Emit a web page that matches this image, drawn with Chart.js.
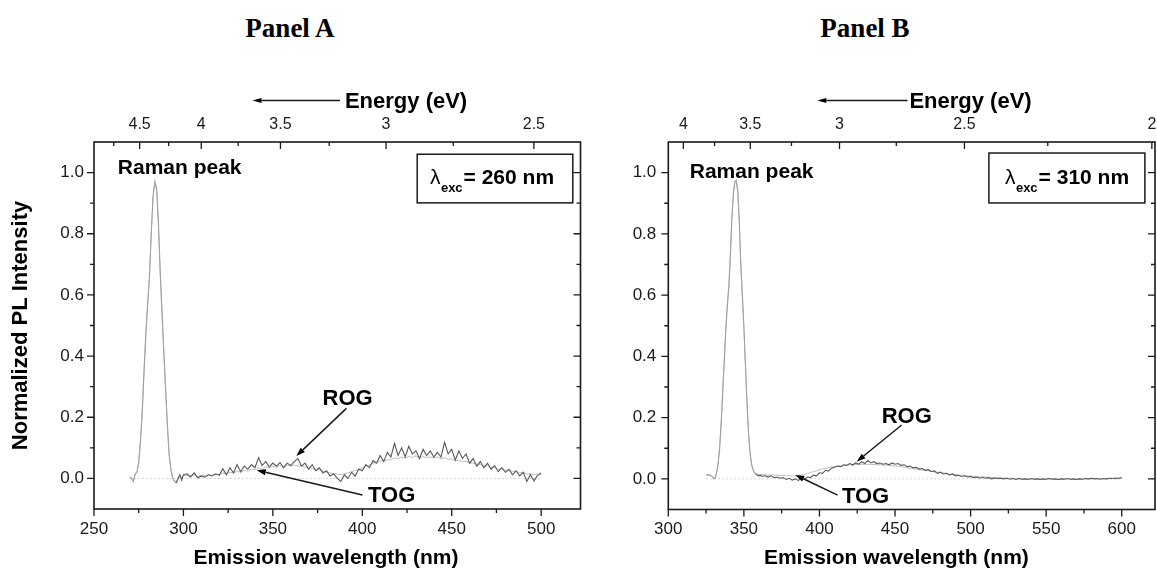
<!DOCTYPE html>
<html><head><meta charset="utf-8">
<script src="https://cdn.jsdelivr.net/npm/chart.js@4.4.1/dist/chart.umd.min.js"></script>
<style>
html,body{margin:0;padding:0;background:#fff;}
body{width:1157px;height:577px;position:relative;overflow:hidden;}
.pt{position:absolute;top:13px;font:bold 27px "Liberation Serif","Times New Roman",serif;color:#000;transform:translateX(-50%);white-space:nowrap;}
#ca{position:absolute;left:0;top:0;}
#cb{position:absolute;left:610px;top:0;}
</style></head><body>
<div class="pt" style="left:290px">Panel A</div>
<div class="pt" style="left:865px">Panel B</div>
<canvas id="ca" width="610" height="577"></canvas>
<canvas id="cb" width="547" height="577"></canvas>
<script>
const HC = 1239.84; // eV·nm
const FONT = '"Liberation Sans", Arial, sans-serif';

// ---------- Panel A data (λexc = 260 nm) ----------
const wlA = [270,271,272,273,274,275,276,277,278,279,
  280,281,282,283,284,285,286,287,288,289,
  290,291,292,293,294,295,296,297,298,299,300,
  302,304,306,308,310,312,314,316,318,320,
  322,324,326,328,330,332,334,336,338,340,
  342,344,346,348,350,352,354,356,358,360,
  362,364,366,368,370,372,374,376,378,380,
  382,384,386,388,390,392,394,396,398,400,
  402,404,406,408,410,412,414,416,418,420,
  422,424,426,428,430,432,434,436,438,440,
  442,444,446,448,450,452,454,456,458,460,
  462,464,466,468,470,472,474,476,478,480,
  482,484,486,488,490,492,494,496,498,500];
const rogA = [0.005,0.0,-0.01,0.015,0.02,0.05,0.12,0.22,0.35,0.47,
  0.57,0.66,0.8,0.92,0.972,0.95,0.84,0.68,0.55,0.42,
  0.3,0.18,0.08,0.03,0.0,-0.01,-0.015,0.0,0.012,-0.005,0.012,
  0.015,0.005,0.018,0.002,0.008,0.004,0.012,0.008,0.015,0.01,
  0.032,0.012,0.035,0.018,0.045,0.022,0.04,0.03,0.045,0.035,
  0.068,0.042,0.055,0.038,0.05,0.04,0.052,0.035,0.05,0.042,
  0.055,0.065,0.04,0.05,0.03,0.045,0.025,0.035,0.018,0.025,
  0.008,0.015,0.0,-0.01,0.012,0.0,0.02,0.008,0.03,0.025,
  0.045,0.035,0.058,0.05,0.075,0.055,0.085,0.07,0.115,0.075,
  0.1,0.07,0.105,0.08,0.09,0.065,0.095,0.075,0.09,0.07,
  0.085,0.07,0.118,0.08,0.095,0.06,0.09,0.065,0.08,0.05,
  0.065,0.04,0.055,0.035,0.05,0.03,0.042,0.022,0.035,0.02,
  0.03,0.012,0.025,0.008,0.02,-0.01,0.012,-0.008,0.01,0.018];
const togA = [0.004,0.002,-0.008,0.012,0.02,0.055,0.13,0.23,0.36,0.48,
  0.57,0.66,0.8,0.92,0.965,0.945,0.83,0.67,0.54,0.41,
  0.29,0.17,0.075,0.028,0.002,-0.008,-0.012,0.002,0.008,0.0,0.01,
  0.01,0.008,0.012,0.006,0.01,0.008,0.012,0.01,0.014,0.012,
  0.018,0.015,0.02,0.018,0.024,0.02,0.026,0.024,0.03,0.028,
  0.035,0.03,0.038,0.034,0.04,0.036,0.042,0.038,0.043,0.04,
  0.044,0.04,0.042,0.036,0.038,0.032,0.03,0.028,0.024,0.02,
  0.018,0.016,0.014,0.012,0.016,0.018,0.022,0.026,0.03,0.034,
  0.04,0.044,0.05,0.052,0.058,0.056,0.062,0.06,0.068,0.064,
  0.07,0.066,0.072,0.068,0.074,0.066,0.072,0.068,0.07,0.066,
  0.07,0.064,0.068,0.062,0.064,0.058,0.06,0.054,0.056,0.05,
  0.05,0.046,0.046,0.04,0.042,0.036,0.036,0.03,0.032,0.026,
  0.028,0.022,0.024,0.018,0.02,0.014,0.016,0.012,0.014,0.012];
const baseXA = [270, 500];
const baseY = [0, 0];
const ramanEndA = 296;

// ---------- Panel B data (λexc = 310 nm) ----------
const wlB = [325,326,327,328,329,330,331,332,333,334,
  335,336,337,338,339,340,341,342,343,344,
  345,346,347,348,349,350,351,352,353,354,
  355,356,357,358,359,360,361,362,
  364,366,368,370,372,374,376,378,380,382,384,386,388,390,392,394,396,398,400,
  402,404,406,408,410,412,414,416,418,420,
  422,424,426,428,430,432,434,436,438,440,
  442,444,446,448,450,452,454,456,458,460,
  462,464,466,468,470,472,474,476,478,480,
  482,484,486,488,490,492,494,496,498,500,
  502,504,506,508,510,512,514,516,518,520,
  522,524,526,528,530,532,534,536,538,540,
  542,544,546,548,550,552,554,556,558,560,
  562,564,566,568,570,572,574,576,578,580,
  582,584,586,588,590,592,594,596,598,600];
const rogB = [0.015,0.012,0.014,0.01,0.008,0.0,0.002,0.02,0.05,0.1,
  0.18,0.28,0.38,0.48,0.56,0.62,0.72,0.84,0.93,0.97,
  0.975,0.94,0.84,0.7,0.6,0.5,0.38,0.26,0.16,0.09,
  0.05,0.03,0.02,0.015,0.012,0.01,0.012,0.008,
  0.01,0.006,0.01,0.004,0.006,0.002,0.004,-0.002,0.002,-0.004,0.0,-0.005,0.002,-0.002,0.006,0.004,0.012,0.01,0.02,
  0.018,0.028,0.025,0.035,0.038,0.042,0.04,0.046,0.044,0.05,
  0.046,0.052,0.048,0.056,0.05,0.06,0.052,0.056,0.05,0.052,
  0.048,0.05,0.046,0.052,0.048,0.05,0.044,0.046,0.04,0.042,
  0.036,0.038,0.032,0.034,0.028,0.03,0.024,0.026,0.018,0.022,
  0.016,0.018,0.012,0.016,0.01,0.012,0.008,0.01,0.006,0.008,
  0.004,0.006,0.002,0.005,0.002,0.004,0.0,0.003,0.001,0.002,
  0.0,0.002,-0.001,0.001,-0.002,0.001,-0.001,0.0,-0.002,0.001,
  -0.001,0.0,-0.002,0.0,-0.001,0.001,-0.001,0.0,-0.002,0.0,
  -0.001,0.001,-0.001,0.0,-0.002,0.0,-0.001,0.001,0.0,0.002,
  0.0,0.001,-0.001,0.001,0.0,0.002,0.001,0.003,0.002,0.004];
const togB = [0.012,0.014,0.012,0.012,0.01,0.004,0.006,0.022,0.055,0.11,
  0.19,0.29,0.39,0.49,0.57,0.63,0.73,0.85,0.93,0.965,
  0.97,0.935,0.83,0.69,0.59,0.49,0.37,0.25,0.15,0.085,
  0.05,0.032,0.024,0.018,0.016,0.015,0.015,0.014,
  0.014,0.012,0.014,0.012,0.013,0.011,0.012,0.01,0.011,0.009,0.01,0.009,0.012,0.014,0.018,0.02,0.024,0.026,0.03,
  0.032,0.035,0.036,0.039,0.04,0.042,0.042,0.044,0.044,0.046,
  0.045,0.047,0.046,0.048,0.047,0.048,0.047,0.047,0.046,0.046,
  0.045,0.045,0.044,0.043,0.042,0.041,0.04,0.038,0.037,0.035,
  0.034,0.032,0.031,0.029,0.028,0.026,0.025,0.023,0.022,0.02,
  0.019,0.018,0.016,0.015,0.014,0.013,0.012,0.011,0.01,0.009,
  0.008,0.008,0.007,0.006,0.006,0.005,0.005,0.004,0.004,0.003,
  0.003,0.002,0.002,0.002,0.001,0.001,0.001,0.0,0.0,0.0,
  0.001,0.0,0.0,-0.001,0.0,0.0,0.001,0.0,-0.001,0.0,
  0.0,0.001,0.0,0.0,-0.001,0.0,0.0,0.001,0.0,0.0,
  0.001,0.0,0.0,0.001,0.0,0.001,0.001,0.0,0.001,0.002];
const baseXB = [325, 600];
const ramanEndB = 358;

// ---------- Tick values and labels ----------
const yTicks = [0, 0.2, 0.4, 0.6, 0.8, 1.0];
const yMinor = [0.1, 0.3, 0.5, 0.7, 0.9];
const xTicksA = [250, 300, 350, 400, 450, 500];
const xMinorA = [275, 325, 375, 425, 475];
const xTicksB = [300, 350, 400, 450, 500, 550, 600];
const xMinorB = [325, 375, 425, 475, 525, 575];
const eTicksA = [4.5, 4, 3.5, 3, 2.5];
const eLabelsA = ['4.5', '4', '3.5', '3', '2.5'];
const eMinorA = [4.75, 4.25, 3.75, 3.25, 2.75];
const eTicksB = [4, 3.5, 3, 2.5, 2];
const eLabelsB = ['4', '3.5', '3', '2.5', '2'];
const eMinorB = [3.75, 3.25, 2.75, 2.25];

function pairs(xs, ys) { return xs.map((x, i) => ({x: x, y: ys[i]})); }

function drawArrow(ctx, x1, y1, x2, y2, head, w) {
  const ang = Math.atan2(y2 - y1, x2 - x1);
  const bx = x2 - head * Math.cos(ang), by = y2 - head * Math.sin(ang);
  ctx.beginPath(); ctx.moveTo(x1, y1); ctx.lineTo(bx, by); ctx.stroke();
  ctx.beginPath(); ctx.moveTo(x2, y2);
  ctx.lineTo(bx + w * Math.sin(ang), by - w * Math.cos(ang));
  ctx.lineTo(bx - w * Math.sin(ang), by + w * Math.cos(ang));
  ctx.closePath(); ctx.fill();
}

function framePlugin(p) {
  return {
    id: 'frame' + p.id,
    afterDraw(chart) {
      const ctx = chart.ctx, a = chart.chartArea;
      const xs = chart.scales.x, ys = chart.scales.y, xt = chart.scales.x2;
      const L = p.lay;
      const X = v => xs.getPixelForValue(v), Y = v => ys.getPixelForValue(v);
      ctx.save();
      ctx.strokeStyle = '#1a1a1a'; ctx.fillStyle = '#000';
      ctx.lineWidth = 1.6;
      ctx.strokeRect(a.left, a.top, a.right - a.left, a.bottom - a.top);
      ctx.lineWidth = 1.3;
      ctx.beginPath();
      p.xTicks.forEach(v => { const x = X(v); ctx.moveTo(x, a.bottom); ctx.lineTo(x, a.bottom + 7); });
      p.xMinor.forEach(v => { const x = X(v); ctx.moveTo(x, a.bottom); ctx.lineTo(x, a.bottom + 4); });
      p.eTicks.forEach(e => { const x = xt.getPixelForValue(HC / e); ctx.moveTo(x, a.top); ctx.lineTo(x, a.top + 7); });
      p.eMinor.forEach(e => { const x = xt.getPixelForValue(HC / e); ctx.moveTo(x, a.top); ctx.lineTo(x, a.top + 4); });
      yTicks.forEach(v => { const y = Y(v); ctx.moveTo(a.left, y); ctx.lineTo(a.left - 7, y); ctx.moveTo(a.right, y); ctx.lineTo(a.right - 7, y); });
      yMinor.forEach(v => { const y = Y(v); ctx.moveTo(a.left, y); ctx.lineTo(a.left - 4, y); ctx.moveTo(a.right, y); ctx.lineTo(a.right - 4, y); });
      ctx.stroke();

      // top axis title with arrow
      ctx.lineWidth = 1.5;
      drawArrow(ctx, X(L.eArrow[0]), a.top - 41.5, X(L.eArrow[1]), a.top - 41.5, 9, 2.6);
      ctx.font = 'bold 22px ' + FONT; ctx.textAlign = 'left'; ctx.textBaseline = 'alphabetic';
      ctx.fillText('Energy (eV)', X(L.eText), a.top - 34.5);

      // bottom axis title
      ctx.textAlign = 'center';
      ctx.font = 'bold 21px ' + FONT;
      ctx.fillText('Emission wavelength (nm)', X(L.xTitle), a.bottom + L.xTitleDy);
      ctx.textAlign = 'left';

      // Raman peak label
      ctx.font = 'bold 21px ' + FONT;
      ctx.fillText('Raman peak', X(L.raman[0]), Y(L.raman[1]));

      // excitation box
      const bx1 = X(L.box[0]), bx2 = X(L.box[1]), by1 = Y(L.box[2]), by2 = Y(L.box[3]);
      ctx.lineWidth = 1.5;
      ctx.strokeRect(bx1, by1, bx2 - bx1, by2 - by1);
      let tx = X(L.lam[0]); const ty = Y(L.lam[1]);
      ctx.font = '21px ' + FONT; ctx.fillText('λ', tx, ty); tx += ctx.measureText('λ').width + 0.5;
      ctx.font = 'bold 13px ' + FONT; ctx.fillText('exc', tx, ty + 8); tx += ctx.measureText('exc').width + 1;
      ctx.font = 'bold 21px ' + FONT; ctx.fillText(p.excText, tx, ty);

      // ROG / TOG labels
      ctx.font = 'bold 22px ' + FONT;
      ctx.fillText('ROG', X(L.rog[0]), Y(L.rog[1]));
      ctx.fillText('TOG', X(L.tog[0]), Y(L.tog[1]));
      ctx.lineWidth = 1.5;
      drawArrow(ctx, X(L.rogArrow[0]), Y(L.rogArrow[1]), X(L.rogArrow[2]), Y(L.rogArrow[3]), 9, 3);
      drawArrow(ctx, X(L.togArrow[0]), Y(L.togArrow[1]), X(L.togArrow[2]), Y(L.togArrow[3]), 9, 3);
      ctx.restore();
    }
  };
}

function buildPanel(canvasId, p) {
  const datasets = [
    {data: pairs(p.wl, p.rog), borderColor: '#5a5a5a', borderWidth: 1.1, pointRadius: 0, tension: 0,
     segment: {borderColor: c => (c.p1.parsed.x <= p.ramanEnd ? '#a2a2a2' : '#5a5a5a')}},
    {data: pairs(p.wl, p.tog), borderColor: '#bdbdbd', borderWidth: 1, pointRadius: 0, tension: 0},
    {data: pairs(p.baseX, baseY), borderColor: '#d2d2d2', borderWidth: 1, borderDash: [2, 2], pointRadius: 0}
  ];
  return new Chart(document.getElementById(canvasId), {
    type: 'line',
    data: {datasets: datasets},
    options: {
      responsive: false, animation: false, devicePixelRatio: 1,
      layout: {padding: {left: 0, right: p.padRight, top: 0, bottom: 0}},
      plugins: {legend: {display: false}, tooltip: {enabled: false}},
      scales: {
        x: {
          type: 'linear', position: 'bottom', min: p.xMin, max: p.xMax,
          afterBuildTicks: s => { s.ticks = p.xTicks.map(v => ({value: v})); },
          afterFit: s => { s.height = p.bottomH; s.paddingLeft = 0; s.paddingRight = 0; },
          grid: {display: false, drawTicks: false}, border: {display: false},
          ticks: {padding: 10, autoSkip: false, maxRotation: 0, color: '#1a1a1a',
                  font: {family: FONT, size: 17}, callback: v => String(v)},
          title: {display: false}
        },
        x2: {
          type: 'linear', position: 'top', min: p.xMin, max: p.xMax,
          afterBuildTicks: s => { s.ticks = p.eTicks.map(e => ({value: HC / e})); },
          afterFit: s => { s.height = 142; s.paddingLeft = 0; s.paddingRight = 0; },
          grid: {display: false, drawTicks: false}, border: {display: false},
          ticks: {padding: 8, autoSkip: false, maxRotation: 0, color: '#1a1a1a',
                  font: {family: FONT, size: 16}, callback: (v, i) => p.eLabels[i]}
        },
        y: {
          type: 'linear', position: 'left', min: -0.1, max: 1.1,
          afterBuildTicks: s => { s.ticks = yTicks.map(v => ({value: v})); },
          afterFit: s => { s.width = p.leftW; s.paddingTop = 0; s.paddingBottom = 0; },
          grid: {display: false, drawTicks: false}, border: {display: false},
          ticks: {padding: p.yPad, color: '#1a1a1a', font: {family: FONT, size: 17}, callback: v => v.toFixed(1)},
          title: {display: p.yTitle, text: 'Normalized PL Intensity', color: '#000',
                  font: {family: FONT, size: 22, weight: 'bold'}, padding: {top: 8, bottom: 0}}
        }
      }
    },
    plugins: [framePlugin(p)]
  });
}

buildPanel('ca', {
  id: 'A', wl: wlA, rog: rogA, tog: togA, baseX: baseXA, ramanEnd: ramanEndA,
  xMin: 250, xMax: 522, xTicks: xTicksA, xMinor: xMinorA,
  eTicks: eTicksA, eLabels: eLabelsA, eMinor: eMinorA,
  leftW: 94, padRight: 29.5, bottomH: 68, yPad: 10, yTitle: true,
  excText: '= 260 nm',
  lay: {eArrow: [387.5, 338.6], eText: 390.3, xTitle: 379.7, xTitleDy: 55,
        raman: [263.3, 0.995], box: [430.7, 517.7, 1.060, 0.901], lam: [437.8, 0.964],
        rog: [377.8, 0.240], rogArrow: [391.1, 0.229, 363.1, 0.073],
        tog: [403.2, -0.076], togArrow: [400.1, -0.054, 341.0, 0.027]}
});

buildPanel('cb', {
  id: 'B', wl: wlB, rog: rogB, tog: togB, baseX: baseXB, ramanEnd: ramanEndB,
  xMin: 300, xMax: 622, xTicks: xTicksB, xMinor: xMinorB,
  eTicks: eTicksB, eLabels: eLabelsB, eMinor: eMinorB,
  leftW: 58.3, padRight: 2, bottomH: 67.5, yPad: 12, yTitle: false,
  excText: '= 310 nm',
  lay: {eArrow: [458.3, 398.6], eText: 459.5, xTitle: 450.9, xTitleDy: 54,
        raman: [314.2, 0.983], box: [512.1, 615.3, 1.064, 0.901], lam: [522.7, 0.964],
        rog: [441.2, 0.183], rogArrow: [454.4, 0.176, 424.6, 0.056],
        tog: [414.9, -0.080], togArrow: [412.0, -0.053, 384.0, 0.013]}
});
</script>
</body></html>
